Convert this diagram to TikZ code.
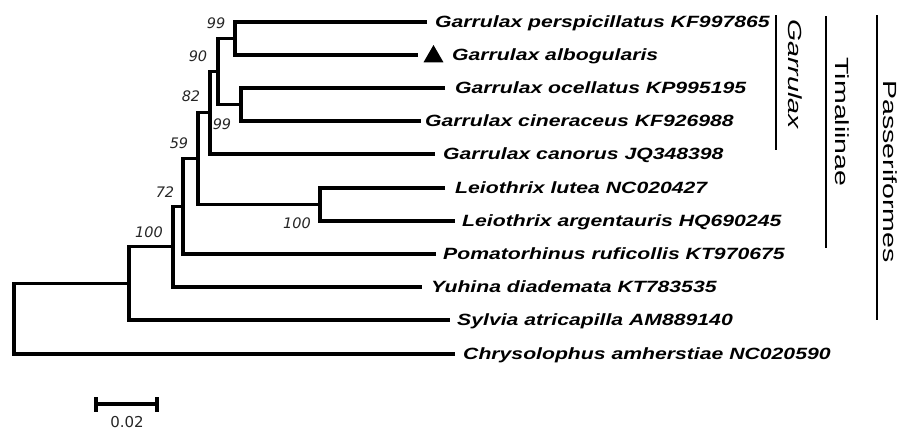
\documentclass[tikz,border=0pt]{standalone}
\usepackage{fontspec}
\usetikzlibrary{shapes.geometric}
\newfontfamily\taxfont[FakeStretch=1.3]{Liberation Sans}
\newfontfamily\cladefont[FakeStretch=1.5]{Liberation Sans}
\newfontfamily\bsfont{DejaVu Sans}
\tikzset{
  branch/.style={line width=3.4pt},
  bracket/.style={line width=2.2pt},
  taxon/.style={anchor=base west, inner sep=0pt,
    font=\taxfont\bfseries\itshape\fontsize{16.3}{19}\selectfont},
  boot/.style={inner sep=0pt, text=black!85,
    font=\bsfont\itshape\fontsize{14.5}{16}\selectfont},
  clade/.style={rotate=-90, inner sep=0pt,
    font=\cladefont\fontsize{19}{22}\selectfont},
}
\begin{document}
\begin{tikzpicture}[x=1pt, y=-1pt]
\useasboundingbox (0,0) rectangle (904,432);

% branch tips
\coordinate (t1) at (427,22);
\coordinate (t2) at (418,55);
\coordinate (t3) at (445,88);
\coordinate (t4) at (421,121);
\coordinate (t5) at (435,154);
\coordinate (t6) at (445,188);
\coordinate (t7) at (455,221);
\coordinate (t8) at (436,254);
\coordinate (t9) at (422,287);
\coordinate (t10) at (450,320);
\coordinate (t11) at (455,354);

% internal nodes
\coordinate (A) at (235,38.5);
\coordinate (B) at (241,104.5);
\coordinate (C) at (218,71.5);
\coordinate (D) at (210,112.75);
\coordinate (L) at (320,204.5);
\coordinate (E) at (198,158.6);
\coordinate (F) at (183,206.3);
\coordinate (G) at (173,246.6);
\coordinate (H) at (129,283.3);
\coordinate (R) at (14,318.7);

% tree
\draw[branch] (t1) -| (A) |- (t2);
\draw[branch] (t3) -| (B) |- (t4);
\draw[branch] (A) -| (C) |- (B);
\draw[branch] (C) -| (D) |- (t5);
\draw[branch] (t6) -| (L) |- (t7);
\draw[branch] (D) -| (E) |- (L);
\draw[branch] (E) -| (F) |- (t8);
\draw[branch] (F) -| (G) |- (t9);
\draw[branch] (G) -| (H) |- (t10);
\draw[branch] (H) -| (R) |- (t11);

% taxon labels
\node[taxon] (n1) at (435,27) {Garrulax perspicillatus KF997865};
\node[regular polygon, regular polygon sides=3, fill, inner sep=0pt,
      minimum size=23pt] (mark) at (433.5,56.5) {};
\node[taxon] (n2) at (452,60) {Garrulax albogularis};
\node[taxon] (n3) at (455,93) {Garrulax ocellatus KP995195};
\node[taxon] (n4) at (425,126) {Garrulax cineraceus KF926988};
\node[taxon] (n5) at (443,159) {Garrulax canorus JQ348398};
\node[taxon] (n6) at (455,193) {Leiothrix lutea NC020427};
\node[taxon] (n7) at (462,226) {Leiothrix argentauris HQ690245};
\node[taxon] (n8) at (443,259) {Pomatorhinus ruficollis KT970675};
\node[taxon] (n9) at (431,292) {Yuhina diademata KT783535};
\node[taxon] (n10) at (457,325) {Sylvia atricapilla AM889140};
\node[taxon] (n11) at (463,359) {Chrysolophus amherstiae NC020590};

% bootstrap values
\node[boot] (bA) at (216,23) {99};
\node[boot] (bC) at (198,56) {90};
\node[boot] (bD) at (191,96) {82};
\node[boot] (bB) at (222,124) {99};
\node[boot] (bE) at (179,143) {59};
\node[boot] (bF) at (165,192) {72};
\node[boot] (bG) at (149,232) {100};
\node[boot] (bL) at (297,223) {100};

% clade brackets
\coordinate (g1) at (776,15);
\coordinate (g2) at (776,150);
\draw[bracket] (g1) -- (g2);
\node[clade, font=\cladefont\itshape\fontsize{19}{22}\selectfont] (gl) at (795,74) {Garrulax};
\coordinate (m1) at (826,16);
\coordinate (m2) at (826,248);
\draw[bracket] (m1) -- (m2);
\node[clade] (ml) at (842,122) {Timaliinae};
\coordinate (p1) at (877,15);
\coordinate (p2) at (877,320);
\draw[bracket] (p1) -- (p2);
\node[clade] (pl) at (890,171.5) {Passeriformes};

% scale bar
\coordinate (s1) at (96,404);
\coordinate (s2) at (157,404);
\draw[branch] (s1) -- (s2);
\draw[branch] ([yshift=7pt]s1) -- ([yshift=-8pt]s1);
\draw[branch] ([yshift=7pt]s2) -- ([yshift=-8pt]s2);
\node[inner sep=0pt, text=black!85, font=\bsfont\fontsize{15}{17}\selectfont] (sl) at (127,422) {0.02};
\end{tikzpicture}
\end{document}
